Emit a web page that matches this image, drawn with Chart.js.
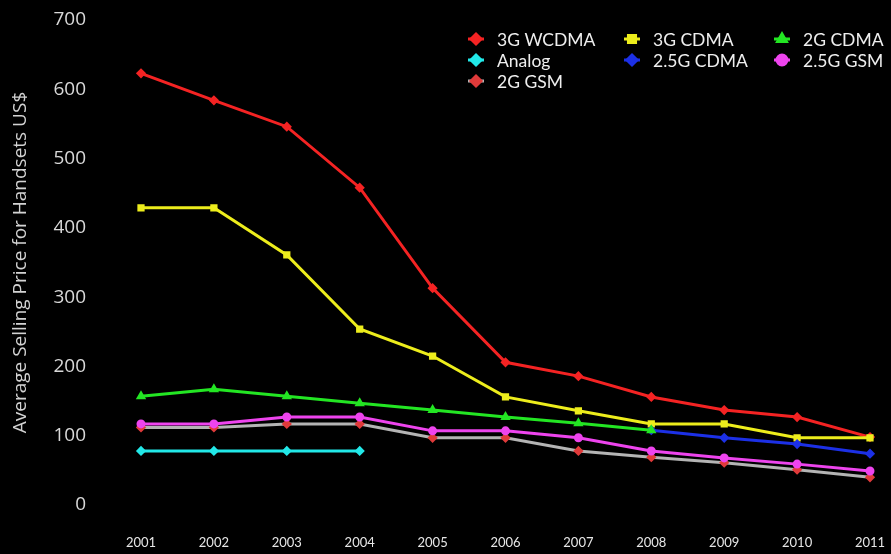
<!DOCTYPE html>
<html>
<head>
<meta charset="utf-8">
<script src="https://cdn.jsdelivr.net/npm/chart.js@4.4.1/dist/chart.umd.min.js"></script>
<style>
  html, body { margin: 0; padding: 0; background: #000; }
  #wrap { width: 891px; height: 554px; position: relative; }
</style>
</head>
<body>
<div id="wrap"><canvas id="asp"></canvas></div>
<script>
// handset average selling price, US$
const years = ["2001", "2002", "2003", "2004", "2005", "2006", "2007", "2008", "2009", "2010", "2011"];

const wcdma3g  = [623, 584, 546, 458, 313, 206, 186, 156, 137, 127, 98];
const cdma3g   = [429, 429, 361, 254, 215, 156, 136, 117, 117, 97, 97];
const cdma2g   = [157, 167, 157, 147, 137, 127, 118, 108, null, null, null];
const analog   = [78, 78, 78, 78, null, null, null, null, null, null, null];
const cdma25g  = [null, null, null, null, null, null, null, 108, 97, 88, 74];
const gsm25g   = [117, 117, 127, 127, 107, 107, 97, 78, 68, 59, 49];
const gsm2g    = [112, 112, 117, 117, 97, 97, 78, 69, 61, 51, 40];

const yTicks = [0, 100, 200, 300, 400, 500, 600, 700];

function series(label, data, line, point, style, order) {
    return {
        label,
        data,
        borderColor: line,
        backgroundColor: point,
        pointBackgroundColor: point,
        pointBorderColor: point,
        pointStyle: style,
        pointRadius: 3,
        borderWidth: 3,
        tension: 0,
        spanGaps: false,
        order
    };
}

// excel-ish legend, 3 columns in the top right corner
const gridLegend = {
    id: "gridLegend",
    afterDraw(chart) {
        const ctx = chart.ctx;
        const cols = [476, 632, 782];
        const rows = [39, 60, 81];
        ctx.save();
        ctx.font = "17.5px Lato, 'Open Sans', sans-serif";
        ctx.textBaseline = "middle";
        chart.data.datasets.forEach((ds, i) => {
            const cx = cols[i % 3];
            const cy = rows[Math.floor(i / 3)];
            ctx.strokeStyle = ds.borderColor;
            ctx.lineWidth = 3;
            ctx.beginPath();
            ctx.moveTo(cx - 8, cy);
            ctx.lineTo(cx + 8, cy);
            ctx.stroke();
            ctx.fillStyle = ds.pointBackgroundColor;
            ctx.strokeStyle = ds.pointBackgroundColor;
            Chart.helpers.drawPoint(ctx, { pointStyle: ds.pointStyle, radius: 5, borderWidth: 1, rotation: 0 }, cx, cy);
            ctx.fillStyle = "#eeeeee";
            ctx.fillText(ds.label, cx + 21, cy + 1);
        });
        ctx.restore();
    }
};

new Chart(document.getElementById("asp"), {
    type: "line",
    data: {
        labels: years,
        datasets: [
            series("3G WCDMA", wcdma3g, "#f42323", "#f42323", "rectRot", 7),
            series("3G CDMA", cdma3g, "#eded1c", "#eded1c", "rect", 6),
            series("2G CDMA", cdma2g, "#23e623", "#23e623", "triangle", 3),
            series("Analog", analog, "#22e8e8", "#22e8e8", "rectRot", 5),
            series("2.5G CDMA", cdma25g, "#1c30e6", "#1c30e6", "rectRot", 4),
            series("2.5G GSM", gsm25g, "#ee44ee", "#ee44ee", "circle", 1),
            series("2G GSM", gsm2g, "#b4b4b4", "#e03a3a", "rectRot", 2)
        ]
    },
    options: {
        responsive: true,
        maintainAspectRatio: false,
        animation: false,
        layout: { padding: { top: 20, right: 21, left: 0, bottom: 0 } },
        plugins: {
            legend: { display: false },
            tooltip: { enabled: false }
        },
        scales: {
            x: {
                grid: { display: false, drawTicks: false },
                border: { display: false },
                ticks: {
                    color: "#e6e6e6",
                    padding: 30,
                    maxRotation: 0,
                    font: { family: "'Liberation Sans Narrow', Lato, sans-serif", size: 13 }
                },
                // tick padding also pads the ends; keep the plot edge-to-edge
                afterFit(scale) {
                    scale.height = 49;
                    scale.paddingLeft = 0;
                    scale.paddingRight = 0;
                }
            },
            y: {
                min: 0,
                max: 700,
                afterBuildTicks(scale) { scale.ticks = yTicks.map(v => ({ value: v })); },
                grid: { display: false, drawTicks: false },
                border: { display: false },
                ticks: {
                    color: "#d8d8d8",
                    padding: 55,
                    font: { family: "'Open Sans', sans-serif", size: 19 }
                },
                title: {
                    display: true,
                    text: "Average Selling Price for Handsets US$",
                    color: "#d2d2d2",
                    padding: { top: 9, bottom: 0 },
                    font: { family: "'Open Sans', sans-serif", size: 19 }
                },
                afterFit(scale) {
                    scale.width = 141;
                    scale.paddingTop = 0;
                    scale.paddingBottom = 0;
                }
            }
        }
    },
    plugins: [gridLegend]
});
</script>
</body>
</html>
